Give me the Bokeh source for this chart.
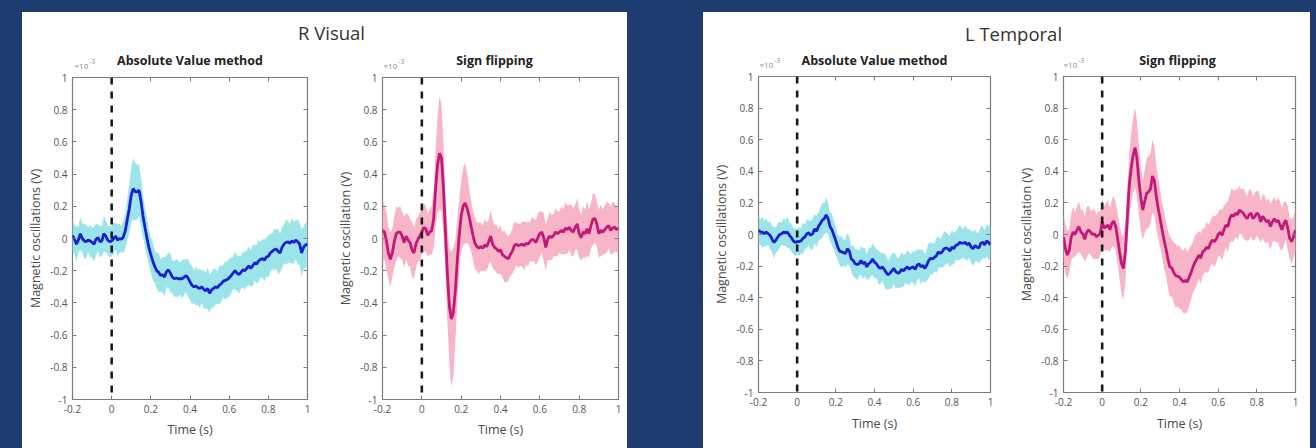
import numpy as np
from bokeh.plotting import figure
from bokeh.models import (Span, Label, LinearAxis, FixedTicker, Range1d,
                          NumeralTickFormatter, CustomJSTickFormatter, Spacer)
from bokeh.layouts import row, column
from bokeh.embed import file_html
from bokeh.resources import INLINE

# ---------------------------------------------------------------- data
# time axis: -0.20 s .. 1.00 s, 10 ms steps (values in units of 1e-3 V)
time = np.round(np.arange(-20, 101) / 100.0, 2)
onset = 0.0
x_ticks = [-0.2, 0, 0.2, 0.4, 0.6, 0.8, 1]
y_ticks = [-1, -0.8, -0.6, -0.4, -0.2, 0, 0.2, 0.4, 0.6, 0.8, 1]

# R Visual - absolute value method (mean, half width of shaded band)
rv_abs_mean = [
    0.02, -0.005, -0.035, -0.01, 0.03, 0.0, -0.015, -0.02, -0.01, -0.015,
    -0.025, -0.035, -0.005, 0.005, -0.02, -0.015, 0.03, 0.015, -0.01, -0.02,
    -0.015, 0.0, 0.015, -0.01, 0.0, -0.005, 0.01, 0.05, 0.12, 0.185,
    0.27, 0.31, 0.29, 0.29, 0.30, 0.23, 0.14, 0.07, 0.005, -0.055,
    -0.10, -0.14, -0.175, -0.20, -0.21, -0.23, -0.225, -0.24, -0.205, -0.195,
    -0.215, -0.24, -0.25, -0.245, -0.25, -0.25, -0.25, -0.24, -0.23, -0.245,
    -0.27, -0.29, -0.30, -0.295, -0.305, -0.31, -0.30, -0.315, -0.325, -0.31,
    -0.34, -0.32, -0.31, -0.30, -0.305, -0.29, -0.28, -0.265, -0.26, -0.255,
    -0.245, -0.23, -0.215, -0.20, -0.215, -0.225, -0.21, -0.195, -0.20, -0.185,
    -0.17, -0.185, -0.17, -0.15, -0.16, -0.14, -0.13, -0.125, -0.135, -0.115,
    -0.11, -0.09, -0.08, -0.07, -0.065, -0.08, -0.09, -0.055, -0.035, -0.025,
    -0.02, -0.03, -0.015, -0.025, -0.01, -0.02, -0.035, -0.09, -0.055, -0.04, -0.035,
]
rv_abs_half = [
    0.10, 0.09, 0.11, 0.08, 0.10, 0.09, 0.11, 0.10, 0.08, 0.10,
    0.09, 0.11, 0.10, 0.08, 0.10, 0.09, 0.11, 0.10, 0.09, 0.10,
    0.09, 0.10, 0.08, 0.10, 0.09, 0.08, 0.10, 0.11, 0.13, 0.15,
    0.17, 0.19, 0.18, 0.17, 0.16, 0.15, 0.13, 0.12, 0.12, 0.11,
    0.11, 0.12, 0.10, 0.11, 0.12, 0.10, 0.11, 0.12, 0.10, 0.11,
    0.12, 0.10, 0.11, 0.12, 0.11, 0.10, 0.12, 0.11, 0.10, 0.12,
    0.11, 0.12, 0.10, 0.12, 0.11, 0.12, 0.10, 0.12, 0.11, 0.13,
    0.12, 0.11, 0.12, 0.11, 0.10, 0.12, 0.11, 0.10, 0.12, 0.11,
    0.12, 0.11, 0.10, 0.12, 0.11, 0.12, 0.10, 0.11, 0.12, 0.11,
    0.12, 0.11, 0.13, 0.11, 0.12, 0.13, 0.11, 0.12, 0.13, 0.12,
    0.13, 0.12, 0.11, 0.13, 0.12, 0.14, 0.12, 0.13, 0.12, 0.14,
    0.13, 0.12, 0.14, 0.13, 0.12, 0.14, 0.13, 0.15, 0.13, 0.14, 0.13,
]

# R Visual - sign flipping
rv_flip_mean = [
    0.05, 0.04, -0.015, -0.09, -0.13, -0.09, -0.02, 0.03, 0.04, 0.04,
    0.015, -0.025, 0.015, -0.01, -0.025, -0.07, -0.09, -0.035, -0.005, 0.015,
    0.04, 0.07, 0.06, 0.02, 0.04, 0.05, 0.12, 0.31, 0.46, 0.53,
    0.50, 0.31, 0.04, -0.22, -0.42, -0.50, -0.46, -0.33, -0.14, 0.02,
    0.14, 0.20, 0.22, 0.19, 0.14, 0.08, 0.02, -0.03, -0.05, -0.06,
    -0.05, -0.06, -0.04, -0.05, -0.02, 0.015, -0.035, -0.055, -0.065, -0.08,
    -0.07, -0.10, -0.11, -0.12, -0.125, -0.10, -0.08, -0.045, -0.035, -0.045,
    -0.04, -0.035, -0.045, -0.03, -0.035, -0.02, -0.005, -0.01, -0.025, 0.005,
    0.03, 0.04, 0.005, -0.055, -0.005, 0.015, 0.005, 0.02, 0.04, 0.03,
    0.04, 0.05, 0.04, 0.065, 0.055, 0.07, 0.05, 0.04, 0.07, 0.09,
    0.03, 0.005, 0.04, 0.03, 0.06, 0.03, 0.08, 0.12, 0.125, 0.09,
    0.03, 0.05, 0.04, 0.055, 0.07, 0.08, 0.05, 0.065, 0.07, 0.055, 0.065,
]
rv_flip_half = [
    0.19, 0.17, 0.18, 0.16, 0.17, 0.15, 0.16, 0.17, 0.15, 0.16,
    0.15, 0.16, 0.14, 0.16, 0.15, 0.17, 0.16, 0.15, 0.14, 0.15,
    0.14, 0.15, 0.14, 0.13, 0.14, 0.15, 0.18, 0.24, 0.30, 0.35,
    0.33, 0.28, 0.25, 0.30, 0.36, 0.42, 0.40, 0.32, 0.26, 0.22,
    0.22, 0.24, 0.25, 0.22, 0.18, 0.16, 0.15, 0.16, 0.15, 0.16,
    0.15, 0.14, 0.16, 0.15, 0.14, 0.16, 0.15, 0.14, 0.15, 0.14,
    0.15, 0.14, 0.16, 0.15, 0.14, 0.13, 0.14, 0.15, 0.13, 0.14,
    0.13, 0.14, 0.15, 0.13, 0.14, 0.12, 0.14, 0.13, 0.14, 0.15,
    0.14, 0.13, 0.15, 0.14, 0.13, 0.15, 0.14, 0.13, 0.15, 0.14,
    0.13, 0.15, 0.14, 0.16, 0.15, 0.14, 0.16, 0.15, 0.14, 0.16,
    0.15, 0.14, 0.16, 0.15, 0.17, 0.15, 0.14, 0.16, 0.15, 0.14,
    0.15, 0.16, 0.14, 0.15, 0.16, 0.14, 0.15, 0.16, 0.15, 0.14, 0.15,
]

# L Temporal - absolute value method
lt_abs_mean = [
    0.03, 0.015, 0.015, 0.005, 0.015, 0.005, -0.005, -0.03, -0.05, -0.035,
    -0.015, 0.0, 0.005, 0.015, 0.01, 0.015, -0.005, -0.02, -0.04, -0.05,
    -0.045, -0.045, -0.04, -0.025, -0.015, 0.005, 0.01, -0.005, 0.005, 0.035,
    0.02, 0.05, 0.07, 0.09, 0.10, 0.125, 0.10, 0.05, 0.03, -0.005,
    -0.04, -0.08, -0.105, -0.11, -0.115, -0.12, -0.09, -0.105, -0.155, -0.165,
    -0.185, -0.19, -0.185, -0.165, -0.185, -0.175, -0.205, -0.185, -0.175, -0.155,
    -0.175, -0.185, -0.205, -0.215, -0.205, -0.22, -0.24, -0.255, -0.245, -0.23,
    -0.215, -0.235, -0.245, -0.24, -0.22, -0.23, -0.215, -0.205, -0.22, -0.21,
    -0.205, -0.22, -0.195, -0.185, -0.205, -0.195, -0.215, -0.195, -0.165, -0.15,
    -0.155, -0.145, -0.135, -0.11, -0.12, -0.11, -0.09, -0.085, -0.09, -0.105,
    -0.08, -0.09, -0.07, -0.065, -0.05, -0.055, -0.055, -0.05, -0.065, -0.055,
    -0.08, -0.09, -0.07, -0.08, -0.085, -0.055, -0.05, -0.065, -0.04, -0.05, -0.065,
]
lt_abs_half = [
    0.09, 0.08, 0.10, 0.08, 0.09, 0.07, 0.09, 0.08, 0.10, 0.08,
    0.09, 0.08, 0.07, 0.09, 0.08, 0.10, 0.08, 0.09, 0.08, 0.09,
    0.08, 0.09, 0.08, 0.10, 0.08, 0.09, 0.08, 0.09, 0.10, 0.09,
    0.10, 0.09, 0.10, 0.11, 0.10, 0.11, 0.10, 0.09, 0.10, 0.09,
    0.09, 0.08, 0.09, 0.10, 0.08, 0.09, 0.10, 0.09, 0.08, 0.10,
    0.09, 0.10, 0.08, 0.09, 0.10, 0.09, 0.08, 0.10, 0.09, 0.10,
    0.10, 0.09, 0.11, 0.10, 0.09, 0.10, 0.11, 0.09, 0.10, 0.11,
    0.10, 0.11, 0.09, 0.10, 0.11, 0.10, 0.09, 0.11, 0.10, 0.09,
    0.10, 0.11, 0.10, 0.09, 0.11, 0.10, 0.09, 0.10, 0.11, 0.10,
    0.10, 0.09, 0.11, 0.10, 0.09, 0.10, 0.11, 0.10, 0.09, 0.10,
    0.11, 0.10, 0.09, 0.10, 0.11, 0.10, 0.09, 0.11, 0.10, 0.09,
    0.10, 0.11, 0.10, 0.09, 0.10, 0.11, 0.10, 0.09, 0.10, 0.11, 0.10,
]

# L Temporal - sign flipping
lt_flip_mean = [
    -0.015, -0.09, -0.13, -0.10, -0.015, 0.015, 0.0, 0.03, 0.05, 0.015,
    0.005, -0.03, 0.015, 0.03, 0.015, 0.0, 0.005, -0.015, -0.005, 0.005,
    0.08, 0.04, 0.05, 0.06, 0.03, 0.07, 0.085, 0.05, -0.025, -0.11,
    -0.185, -0.215, -0.11, 0.10, 0.31, 0.42, 0.50, 0.55, 0.48, 0.34,
    0.23, 0.155, 0.21, 0.26, 0.27, 0.29, 0.37, 0.34, 0.24, 0.165,
    0.10, 0.03, -0.035, -0.09, -0.155, -0.205, -0.21, -0.24, -0.26, -0.265,
    -0.27, -0.285, -0.30, -0.29, -0.30, -0.27, -0.24, -0.205, -0.175, -0.155,
    -0.13, -0.15, -0.11, -0.10, -0.08, -0.09, -0.055, -0.035, -0.045, -0.03,
    0.0, 0.015, -0.005, 0.03, 0.06, 0.05, 0.10, 0.125, 0.115, 0.135,
    0.125, 0.155, 0.145, 0.135, 0.115, 0.10, 0.125, 0.135, 0.10, 0.115,
    0.135, 0.125, 0.08, 0.115, 0.10, 0.08, 0.09, 0.05, 0.08, 0.10,
    0.08, 0.09, 0.06, 0.03, 0.07, 0.09, 0.04, -0.025, -0.045, -0.015, 0.03,
]
lt_flip_half = [
    0.14, 0.16, 0.15, 0.14, 0.15, 0.16, 0.14, 0.15, 0.16, 0.14,
    0.15, 0.14, 0.16, 0.15, 0.14, 0.15, 0.16, 0.14, 0.15, 0.14,
    0.15, 0.14, 0.15, 0.16, 0.14, 0.15, 0.16, 0.15, 0.16, 0.17,
    0.19, 0.20, 0.19, 0.18, 0.20, 0.22, 0.24, 0.25, 0.24, 0.22,
    0.20, 0.19, 0.20, 0.22, 0.23, 0.22, 0.23, 0.22, 0.20, 0.19,
    0.18, 0.17, 0.18, 0.17, 0.18, 0.19, 0.18, 0.19, 0.20, 0.19,
    0.20, 0.19, 0.20, 0.21, 0.19, 0.18, 0.17, 0.16, 0.17, 0.16,
    0.15, 0.16, 0.15, 0.14, 0.16, 0.15, 0.14, 0.15, 0.16, 0.15,
    0.14, 0.15, 0.16, 0.15, 0.14, 0.16, 0.15, 0.17, 0.16, 0.15,
    0.16, 0.15, 0.14, 0.16, 0.15, 0.14, 0.16, 0.15, 0.14, 0.15,
    0.14, 0.15, 0.13, 0.14, 0.15, 0.13, 0.14, 0.15, 0.13, 0.14,
    0.13, 0.14, 0.15, 0.13, 0.14, 0.12, 0.14, 0.13, 0.14, 0.13, 0.14,
]

# ---------------------------------------------------------------- styling
NAVY = "#1f3c70"
BOX = "#7c7c7c"
TICK_TEXT = "#555555"
FONT = "Open Sans"
BLUE, CYAN = "#1a1fcf", "#9be5ea"
MAGENTA, PINK = "#c2177b", "#f8b5c7"


def style_axis(ax, ticks, show_labels=True):
    ax.ticker = FixedTicker(ticks=ticks)
    ax.axis_line_color = None
    ax.major_tick_line_color = BOX
    ax.major_tick_line_width = 1
    ax.major_tick_in = 4
    ax.major_tick_out = 0
    ax.minor_tick_line_color = None
    if show_labels:
        ax.formatter = NumeralTickFormatter(format="0.[0]")
        ax.major_label_text_font = FONT
        ax.major_label_text_font_size = "10px"
        ax.major_label_text_color = TICK_TEXT
        ax.major_label_standoff = 5
    else:
        ax.formatter = CustomJSTickFormatter(code="return ''")
        ax.major_label_text_font_size = "1px"
        ax.major_label_standoff = 0


def subplot(mean, half, line_color, band_color, ylabel,
            width, height, left, right, top, bottom, xlabel_gap):
    p = figure(width=width, height=height, output_backend="svg",
               toolbar_location=None, title=None,
               x_range=Range1d(-0.2, 1.0), y_range=Range1d(-1, 1),
               min_border_left=left, min_border_right=right,
               min_border_top=top, min_border_bottom=bottom,
               background_fill_color="white", border_fill_color="white",
               outline_line_color=BOX, outline_line_width=1.2)
    p.grid.visible = False

    mean = np.asarray(mean)
    half = np.asarray(half)
    p.varea(x=time, y1=mean - half, y2=mean + half, fill_color=band_color)
    p.line(time, mean, line_color=line_color, line_width=2.8)
    p.add_layout(Span(location=onset, dimension="height", line_color="#1b1b1b",
                      line_width=2.6, line_dash="7 7"))

    style_axis(p.xaxis[0], x_ticks)
    style_axis(p.yaxis[0], y_ticks)
    p.xaxis[0].axis_label = "Time (s)"
    p.yaxis[0].axis_label = ylabel
    for ax in (p.xaxis[0], p.yaxis[0]):
        ax.axis_label_text_font = FONT
        ax.axis_label_text_font_size = "12.5px"
        ax.axis_label_text_font_style = "normal"
        ax.axis_label_text_color = "#4a4a4a"
    p.yaxis[0].axis_label_standoff = 3
    p.xaxis[0].axis_label_standoff = xlabel_gap

    top_ax = LinearAxis()
    style_axis(top_ax, x_ticks, show_labels=False)
    p.add_layout(top_ax, "above")
    right_ax = LinearAxis()
    style_axis(right_ax, y_ticks, show_labels=False)
    p.add_layout(right_ax, "right")
    return p


def header(width, height, title, title_xy, subtitles, sub_y, exp_y):
    # pixel coordinates, y measured downward from the strip's top edge
    s = figure(width=width, height=height, output_backend="svg",
               toolbar_location=None, title=None,
               x_range=Range1d(0, width), y_range=Range1d(height, 0),
               x_axis_location=None, y_axis_location=None, min_border=0,
               outline_line_color=None, border_fill_color="white",
               background_fill_color="white")
    s.grid.visible = False
    s.add_layout(Label(x=title_xy[0], y=title_xy[1], text=title,
                       text_align="center", text_baseline="middle",
                       text_font=FONT, text_font_size="18.5px",
                       text_color="#333333"))
    for text, cx, exp_x in subtitles:
        s.add_layout(Label(x=cx, y=sub_y, text=text, text_align="center",
                           text_baseline="middle", text_font=FONT,
                           text_font_style="bold", text_font_size="12.5px",
                           text_color="#222222"))
        s.add_layout(Label(x=exp_x, y=exp_y, text="×10", text_align="left",
                           text_baseline="middle", text_font=FONT,
                           text_font_size="8px", text_color="#8a8a8a"))
        s.add_layout(Label(x=exp_x + 15, y=exp_y - 3.5, text="-3",
                           text_align="left", text_baseline="middle",
                           text_font=FONT, text_font_size="6.5px",
                           text_color="#8a8a8a"))
    return s


# left panel: header 12..70 px, plots 70..448 px (frames 77..399)
fig_a = subplot(rv_abs_mean, rv_abs_half, BLUE, CYAN,
                "Magnetic oscillations (V)", 308, 378, 50, 23, 7, 49, 5)
fig_b = subplot(rv_flip_mean, rv_flip_half, MAGENTA, PINK,
                "Magnetic oscillation (V)", 297, 378, 52, 9, 7, 49, 5)
# right panel: header 12..69 px, plots 69..448 px (frames 76..392)
fig_c = subplot(lt_abs_mean, lt_abs_half, BLUE, CYAN,
                "Magnetic oscillations (V)", 309, 379, 55, 22, 7, 56, 6)
fig_d = subplot(lt_flip_mean, lt_flip_half, MAGENTA, PINK,
                "Magnetic oscillation (V)", 298, 379, 51, 15, 7, 56, 6)

head_left = header(605, 58, "R Visual", (309, 20),
                   [("Absolute Value method", 167.5, 52),
                    ("Sign flipping", 472, 361)], 47.5, 52.5)
head_right = header(607, 57, "L Temporal", (310, 21),
                    [("Absolute Value method", 171, 56),
                     ("Sign flipping", 474, 360)], 47.5, 51.5)

WHITE = {"background-color": "white"}
panel_left = column(head_left, row(fig_a, fig_b, styles=WHITE), styles=WHITE)
panel_right = column(head_right, row(fig_c, fig_d, styles=WHITE), styles=WHITE)

layout = column(
    Spacer(width=1316, height=12),
    row(Spacer(width=22, height=436), panel_left,
        Spacer(width=76, height=436), panel_right,
        Spacer(width=6, height=436)),
    styles={"background-color": NAVY},
)

open("out.html", "w").write(file_html(layout, INLINE))
